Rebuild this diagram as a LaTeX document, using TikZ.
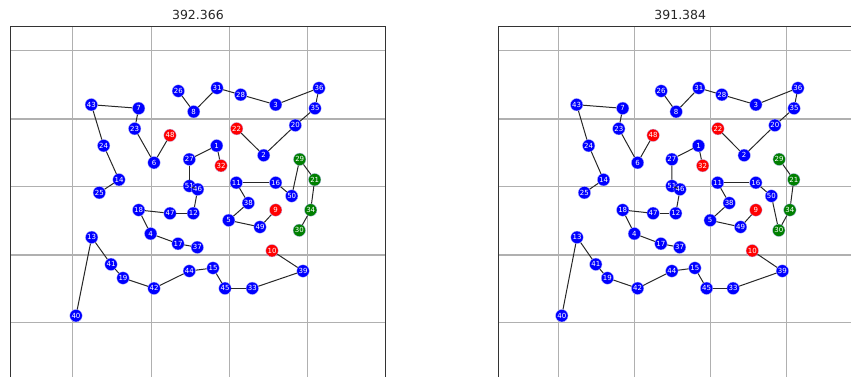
\documentclass[tikz,border=0pt]{standalone}
\usepackage{fontspec}
\setmainfont{DejaVu Sans}
\definecolor{nblue}{RGB}{0,0,255}
\definecolor{nred}{RGB}{255,0,0}
\definecolor{ngreen}{RGB}{0,128,0}
\definecolor{gridgray}{RGB}{176,176,176}
\definecolor{edgegray}{RGB}{40,40,40}
\newcommand\tspnodes[1]{%
  \foreach \n/\x/\y/\c in {
    26/167.6/91/nblue, 31/206.3/88/nblue, 28/230/94.7/nblue, 3/265/104.7/nblue,
    36/308.3/88/nblue, 35/304.3/108.3/nblue, 43/80.6/104.7/nblue, 7/128/108.3/nblue,
    8/183/111.7/nblue, 20/284.6/125.3/nblue, 23/124/128.7/nblue, 22/226/128.7/nred,
    48/159.3/135.3/nred, 24/93/145.7/nblue, 1/206/145.7/nblue, 2/253/155.3/nblue,
    27/178.6/159.3/nblue, 29/289/159.3/ngreen, 6/143.3/162.7/nblue, 32/210.3/165.7/nred,
    14/108.3/179.7/nblue, 21/304/179.7/ngreen, 11/225.6/182.7/nblue, 16/265/182.7/nblue,
    51/178.6/186/nblue, 46/187/189.3/nblue, 25/88.6/192.7/nblue, 50/281/196/nblue,
    38/237.6/203/nblue, 18/128/210/nblue, 9/265/210/nred, 34/300/210/ngreen,
    47/159.3/213.3/nblue, 12/182.6/213.3/nblue, 5/218/220.3/nblue, 49/249.3/227/nblue,
    30/288.6/230.3/ngreen, 4/140/233.7/nblue, 13/81/237.3/nblue, 17/167.3/243.7/nblue,
    37/186.6/247.3/nblue, 10/261.3/250.7/nred, 41/100.3/264.3/nblue, 15/202.3/268/nblue,
    39/292.3/271/nblue, 44/178.6/271/nblue, 19/112.3/278/nblue, 42/143.3/288.3/nblue,
    45/214.3/288.3/nblue, 33/241.6/288.3/nblue, 40/65.3/315.7/nblue}
  {\node[tspnode,fill=\c] (#1\n) at (\x,\y) {\n};}%
}
\newcommand\tspframe{%
  \foreach \gx in {62,140.4,218.6,296.6}
    {\draw[gridline] (\gx,26.7) -- (\gx,400);}
  \foreach \gy in {50.7,119,186.7,255,322.3}
    {\draw[gridline] (0,\gy) -- (374.5,\gy);}
  \draw[axframe] (0,400) -- (0,26.7) -- (374.5,26.7) -- (374.5,400);
}
\newcommand\tspedges[2]{%
  \foreach \a/\b in {43/7,7/23,23/6,6/48,43/24,24/14,14/25,26/8,8/31,31/28,28/3,3/36,
    36/35,35/20,20/2,2/22,1/27,1/32,27/51,51/46,46/12,12/47,47/18,18/4,4/17,17/37,
    11/16,16/50,11/38,38/5,5/49,49/9,13/40,13/41,41/19,19/42,42/44,44/15,15/45,
    45/33,33/39,39/10,#2}
  {\draw[tspedge] (#1\a) -- (#1\b);}%
}
\begin{document}
\begin{tikzpicture}[x=1pt,y=-1pt,
  tspnode/.style={circle,inner sep=0pt,minimum size=12.5pt,text=white,
    draw=white!75!blue,line width=0.3pt,
    font=\fontsize{7}{7}\selectfont},
  tspedge/.style={draw=edgegray,line width=1pt},
  gridline/.style={draw=gridgray,line width=1.1pt},
  axframe/.style={draw=black!80,line width=1pt},
  titletext/.style={font=\fontsize{12.5}{12.5}\selectfont,text=black!85}]
\useasboundingbox (0,0) rectangle (851,376);
\clip (0,0) rectangle (851,376);
\begin{scope}[shift={(10.7,0)}]
  \tspframe
  \node[titletext] (t1) at (187.2,15.3) {392.366};
  \tspnodes{L}
  \tspedges{L}{50/29,29/21,21/34,34/30}
\end{scope}
\begin{scope}[shift={(498.3,0)},xscale=0.9719]
  \tspframe
  \node[titletext] (t2) at (187.2,15.3) {391.384};
  \tspnodes{R}
  \tspedges{R}{50/30,30/34,34/21,21/29}
\end{scope}
\end{tikzpicture}
\end{document}
